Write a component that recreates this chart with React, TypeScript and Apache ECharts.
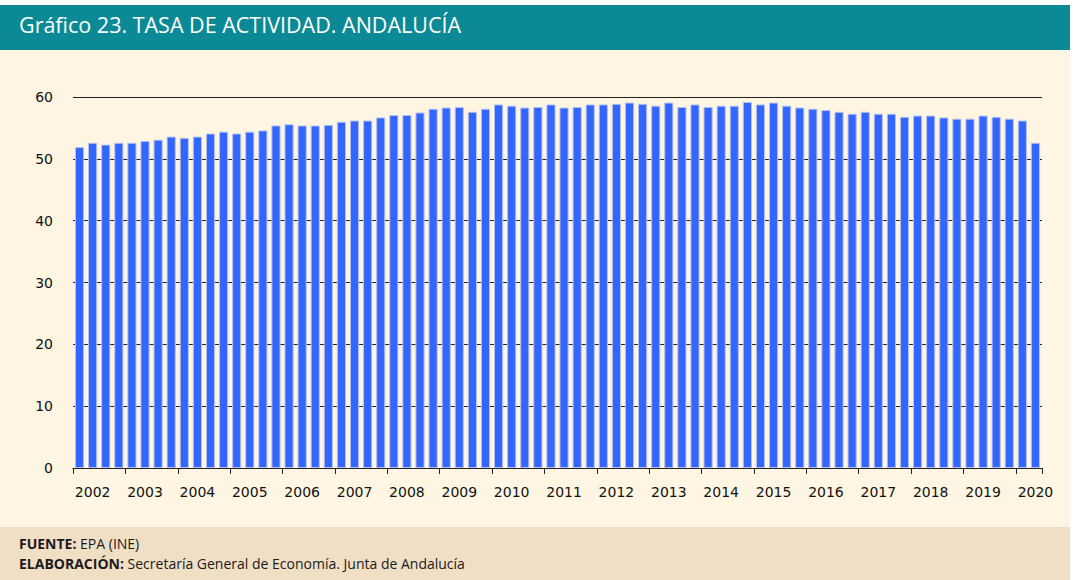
import React, { useEffect, useRef } from "react";
import * as echarts from "echarts";

const years = [2002, 2003, 2004, 2005, 2006, 2007, 2008, 2009, 2010, 2011, 2012, 2013, 2014, 2015, 2016, 2017, 2018, 2019, 2020];
const quarters = ["T1", "T2", "T3", "T4"];
const activityRate = [
  51.9, 52.6, 52.3, 52.6, 52.6, 52.9, 53.1, 53.6, 53.4, 53.6,
  54.1, 54.4, 54.1, 54.4, 54.6, 55.4, 55.6, 55.4, 55.4, 55.5,
  56.0, 56.2, 56.2, 56.7, 57.1, 57.1, 57.5, 58.1, 58.3, 58.4,
  57.6, 58.1, 58.8, 58.6, 58.3, 58.4, 58.8, 58.3, 58.4, 58.8,
  58.8, 58.9, 59.1, 58.9, 58.6, 59.1, 58.4, 58.8, 58.4, 58.6,
  58.6, 59.2, 58.8, 59.1, 58.6, 58.3, 58.1, 57.9, 57.6, 57.3,
  57.6, 57.3, 57.3, 56.8, 57.0, 57.0, 56.7, 56.5, 56.5, 57.0,
  56.8, 56.5, 56.2, 52.6,
];
const yTicks = [0, 10, 20, 30, 40, 50, 60];

const title = "Gráfico 23. TASA DE ACTIVIDAD. ANDALUCÍA";
const sourceLabel = "FUENTE:";
const sourceText = " EPA (INE)";
const elabLabel = "ELABORACIÓN:";
const elabText = " Secretaría General de Economía. Junta de Andalucía";

const categories: string[] = [];
years.forEach((y) => quarters.forEach((q) => categories.push(`${y}${q}`)));
const cats = categories.slice(0, activityRate.length);

export default function App() {
  const ref = useRef<HTMLDivElement>(null);
  useEffect(() => {
    if (!ref.current) return;
    const chart = echarts.init(ref.current, null, { renderer: "svg" });
    const textFont = "'Open Sans', 'Noto Sans', sans-serif";
    chart.setOption({
      animation: false,
      backgroundColor: "#ffffff",
      graphic: [
        { type: "rect", shape: { x: 0, y: 5, width: 1070, height: 45 }, style: { fill: "#0B8A96" }, z: -10 },
        { type: "rect", shape: { x: 0, y: 50, width: 1070, height: 477 }, style: { fill: "#FEF6E3" }, z: -10 },
        { type: "rect", shape: { x: 0, y: 527, width: 1070, height: 53 }, style: { fill: "#F1DFC5" }, z: -10 },
        {
          type: "text", left: 19, top: 13,
          style: { text: title, fill: "#ffffff", font: `21.5px ${textFont}` },
        },
        {
          type: "text", left: 19, top: 536,
          style: {
            text: `{b|${sourceLabel}}{r|${sourceText}}\n{b|${elabLabel}}{r|${elabText}}`,
            rich: {
              b: { fontFamily: textFont, fontWeight: "bold", fontSize: 14, fill: "#1a1a1a", lineHeight: 20 },
              r: { fontFamily: textFont, fontSize: 14, fill: "#1a1a1a", lineHeight: 20 },
            },
          },
        },
      ],
      grid: { left: 73, right: 32, top: 97, bottom: 112, containLabel: false },
      xAxis: {
        type: "category",
        data: cats,
        boundaryGap: true,
        axisLine: { lineStyle: { color: "#222", width: 1 } },
        axisTick: { show: true, interval: (i: number) => i % 4 === 0, length: 6, lineStyle: { color: "#222" } },
        axisLabel: {
          interval: (i: number) => i % 4 === 1,
          formatter: (v: string) => v.slice(0, 4),
          fontFamily: "'DejaVu Sans', Verdana, sans-serif",
          fontSize: 14,
          color: "#111",
          margin: 17,
        },
        splitLine: { show: false },
      },
      yAxis: {
        type: "value",
        min: yTicks[0],
        max: yTicks[yTicks.length - 1],
        interval: 10,
        axisLine: { show: false },
        axisTick: { show: false },
        axisLabel: {
          fontFamily: "'DejaVu Sans', Verdana, sans-serif",
          fontSize: 14,
          color: "#111",
          margin: 20,
        },
        splitLine: { lineStyle: { color: "#222", width: 1 } },
      },
      series: [
        {
          type: "bar",
          data: activityRate,
          barCategoryGap: "30%",
          itemStyle: { color: "#3366FF", borderColor: "#B7C3EE", borderWidth: 1 },
        },
      ],
    });
    return () => chart.dispose();
  }, []);
  return <div ref={ref} style={{ position: "fixed", left: 0, top: 0, width: 1074, height: 580 }} />;
}
